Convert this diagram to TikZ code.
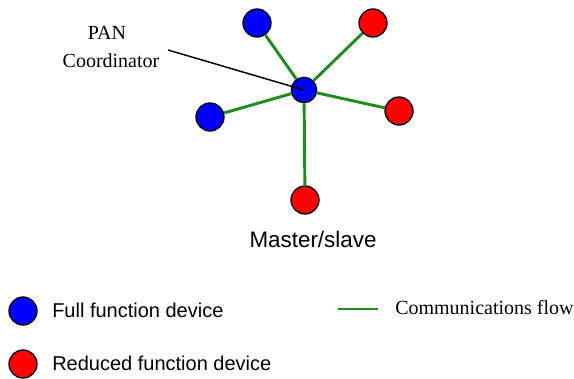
\documentclass[tikz,border=0pt]{standalone}
\usepackage{fontspec}
\setmainfont{Liberation Serif}
\setsansfont{Liberation Sans}
\usepackage{tikz}
\usetikzlibrary{positioning}

\definecolor{flowgreen}{RGB}{30,140,30}

\begin{document}
\begin{tikzpicture}[
    x=0.75pt, y=-0.75pt,
    node distance=5pt,
    ffd/.style={circle, draw=black, line width=1pt, fill=blue, minimum size=21pt, inner sep=0pt},
    rfd/.style={circle, draw=black, line width=1pt, fill=red, minimum size=21pt, inner sep=0pt},
    flow/.style={draw=flowgreen, line width=2.2pt},
    sanslabel/.style={font=\sffamily\fontsize{15}{18}\selectfont, inner sep=0pt},
    seriflabel/.style={font=\fontsize{15}{18}\selectfont, inner sep=0pt}
]
    \useasboundingbox (0,0) rectangle (574,378);
    % star network
    \node[ffd, minimum size=19pt] (pan) at (304,90) {};
    \node[ffd] (ffdA) at (257,23) {};
    \node[rfd] (rfdA) at (373,23) {};
    \node[rfd] (rfdB) at (399,111) {};
    \node[ffd] (ffdB) at (210,117) {};
    \node[rfd] (rfdC) at (305,200) {};
    \foreach \dev in {ffdA, rfdA, rfdB, ffdB, rfdC}
        \draw[flow] (pan) -- (\dev);
    % coordinator label
    \node[seriflabel, anchor=base] (panlbl) at (107,40) {PAN};
    \node[seriflabel, anchor=base] (coordlbl) at (111,68) {Coordinator};
    \coordinate (lead) at (168,50);
    \draw[line width=1.1pt] (lead) -- (pan.center);
    \node[sanslabel, font=\sffamily\fontsize{16.8}{20}\selectfont, anchor=base] (mode) at (313,247) {Master/slave};
    % legend
    \node[ffd] (keyffd) at (23,311) {};
    \node[sanslabel, anchor=base west] (keyffdlbl) at (52,317) {Full function device};
    \node[rfd] (keyrfd) at (23,364) {};
    \node[sanslabel, anchor=base west] (keyrfdlbl) at (52,370) {Reduced function device};
    \coordinate (keyflowA) at (338,309);
    \coordinate (keyflowB) at (378,309);
    \draw[draw=flowgreen, line width=1.1pt] (keyflowA) -- (keyflowB);
    \node[seriflabel, anchor=base west] (keyflowlbl) at (395,314) {Communications flow};
\end{tikzpicture}
\end{document}
